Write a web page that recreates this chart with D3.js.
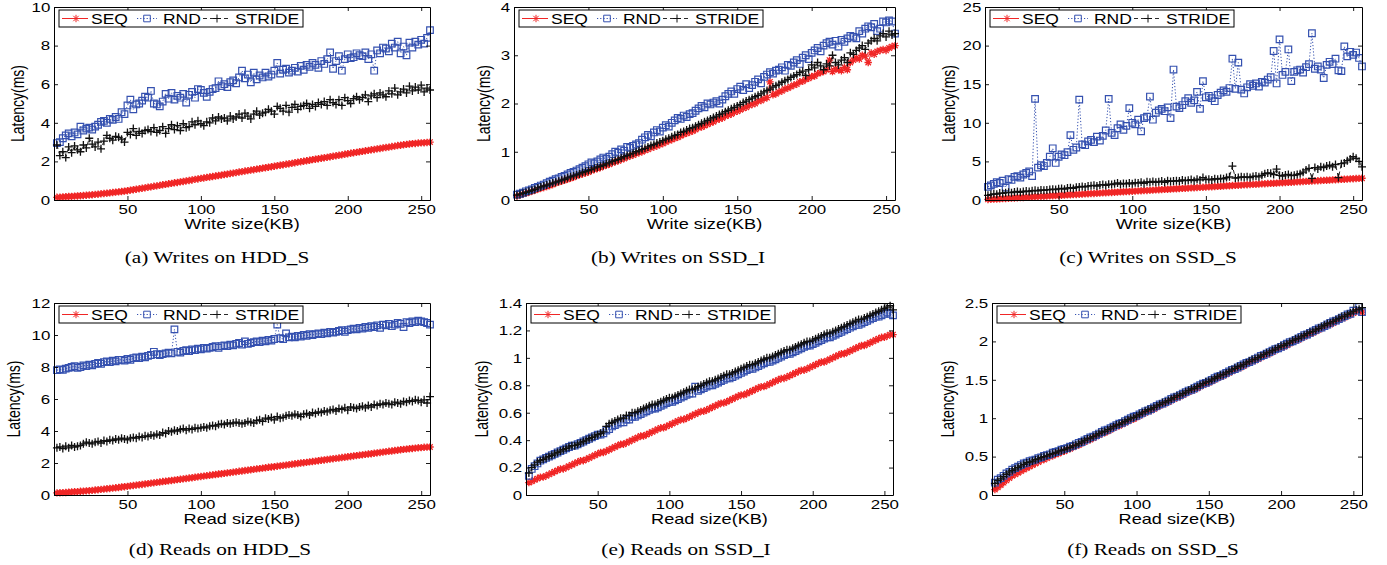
<!DOCTYPE html>
<html>
<head>
<meta charset="utf-8">
<script src="https://cdn.jsdelivr.net/npm/d3@7"></script>
<style>
  body { margin: 0; background: #fff; }
  svg { display: block; }
</style>
</head>
<body>
<svg id="fig" width="1387" height="565"></svg>
<script>
// Request sizes in KB (one sample every 2 KB)
const sizesKB = d3.range(2, 257, 2);
const seriesNames = ["SEQ", "RND", "STRIDE"];
const xTickValues = [50, 100, 150, 200, 250];

// ---- (a) Writes on HDD_S : latency in ms ----
const writeHddSeq = [
  0.14,0.15,0.16,0.17,0.18,0.19,0.20,0.21, 0.22,0.23,0.25,0.26,0.27,0.29,0.30,0.32,
  0.34,0.35,0.37,0.39,0.41,0.42,0.44,0.46, 0.48,0.51,0.53,0.56,0.58,0.61,0.63,0.66,
  0.68,0.71,0.73,0.76,0.79,0.81,0.84,0.86, 0.89,0.91,0.94,0.96,0.99,1.01,1.04,1.07,
  1.09,1.12,1.14,1.17,1.19,1.22,1.24,1.27, 1.29,1.32,1.34,1.37,1.39,1.42,1.45,1.47,
  1.50,1.52,1.55,1.57,1.60,1.62,1.65,1.67, 1.70,1.72,1.75,1.78,1.80,1.83,1.85,1.88,
  1.90,1.93,1.96,1.98,2.01,2.03,2.06,2.09, 2.11,2.14,2.16,2.19,2.21,2.24,2.27,2.29,
  2.32,2.34,2.37,2.40,2.42,2.45,2.47,2.50, 2.52,2.55,2.57,2.60,2.62,2.65,2.67,2.70,
  2.72,2.74,2.77,2.79,2.82,2.84,2.86,2.88, 2.90,2.92,2.93,2.95,2.96,2.97,2.98,3.00];
const writeHddRnd = [
  2.95,3.0,3.2,3.35,3.45,3.3,3.5,3.4, 3.8,3.6,3.7,3.75,3.65,3.8,3.9,4.05,
  4.1,4.0,4.2,4.15,4.3,4.2,4.55,4.45, 4.9,5.2,4.7,4.95,5.0,5.15,5.35,5.3,
  5.65,5.0,4.95,4.85,5.1,5.5,5.25,5.55, 5.2,5.4,5.3,5.5,5.05,5.45,5.6,5.3,
  5.75,5.7,5.55,5.35,5.6,5.75,5.8,6.15, 5.9,6.0,5.85,6.1,6.2,6.05,6.35,6.7,
  6.3,6.5,6.1,6.6,6.25,6.45,6.35,6.6, 6.4,6.5,6.7,7.1,6.55,6.75,6.8,6.6,
  6.7,6.85,6.65,6.95,6.75,7.0,6.9,7.1, 7.0,6.85,7.2,7.05,7.3,7.65,6.8,7.2,
  7.45,6.7,7.3,7.55,7.35,7.4,7.6,7.5, 7.45,7.65,7.3,7.55,6.7,7.75,7.6,7.9,
  7.85,7.7,8.1,7.9,8.2,7.6,7.95,7.5, 8.15,7.9,8.2,8.05,8.3,8.1,8.4,8.8];
const writeHddStride = [
  2.85,2.3,2.5,2.2,2.75,2.45,2.8,2.6, 2.5,2.85,2.7,3.2,2.9,2.75,3.0,2.65,
  3.05,3.35,3.2,3.1,3.3,3.25,3.15,3.0, 3.5,3.4,3.7,3.35,3.55,3.45,3.6,3.65,
  3.55,3.75,3.5,3.6,3.8,3.45,3.7,3.9, 3.65,3.85,3.6,3.95,3.75,3.8,4.05,3.9,
  4.1,3.95,3.85,4.05,4.0,4.25,4.1,4.3, 4.2,4.25,4.1,4.35,4.2,4.3,4.45,4.25,
  4.5,4.35,4.2,4.45,4.6,4.4,4.5,4.55, 4.7,4.6,4.45,4.85,4.75,4.6,4.9,4.55,
  4.8,4.95,4.7,4.85,4.9,5.0,4.75,4.95, 4.85,5.05,4.95,5.1,4.9,5.2,5.05,4.95,
  5.2,4.9,5.3,5.15,5.0,5.25,5.35,5.2, 5.3,5.45,5.1,5.4,5.5,5.3,5.55,5.45,
  5.35,5.65,5.5,5.8,5.45,5.6,5.75,5.55, 5.9,5.65,5.85,5.7,5.95,5.6,5.8,5.7];

// ---- (b) Writes on SSD_I ----
const writeSsdISeq = [
  0.08,0.1,0.12,0.14,0.16,0.18,0.2,0.22, 0.24,0.26,0.28,0.3,0.32,0.35,0.37,0.39,
  0.41,0.43,0.45,0.47,0.5,0.52,0.54,0.56, 0.58,0.61,0.63,0.65,0.67,0.7,0.72,0.74,
  0.77,0.79,0.81,0.84,0.86,0.89,0.91,0.93, 0.96,0.98,1.0,1.03,1.05,1.08,1.1,1.12,
  1.15,1.17,1.2,1.23,1.25,1.28,1.3,1.33, 1.36,1.38,1.41,1.43,1.46,1.5,1.51,1.54,
  1.57,1.6,1.62,1.66,1.68,1.7,1.74,1.76, 1.78,1.82,1.84,1.87,1.9,1.92,1.96,1.98,
  2.0,2.05,2.06,2.1,2.12,2.45,2.18,2.2, 2.24,2.26,2.3,2.32,2.35,2.38,2.4,2.45,
  2.46,2.5,2.52,2.56,2.57,2.62,2.64,2.66, 2.7,2.9,2.66,2.72,2.7,2.68,2.75,2.7,
  2.85,2.9,2.95,2.92,3.0,2.98,2.85,3.05, 3.02,3.08,3.1,3.12,3.1,3.15,3.18,3.2];
const writeSsdIRnd = [
  0.11,0.13,0.15,0.18,0.2,0.22,0.25,0.27, 0.3,0.32,0.35,0.38,0.4,0.43,0.45,0.48,
  0.5,0.53,0.56,0.58,0.61,0.64,0.67,0.7, 0.74,0.78,0.76,0.8,0.84,0.88,0.85,0.9,
  0.95,1.0,0.98,1.05,1.02,1.1,1.08,1.12, 1.15,1.18,1.25,1.3,1.35,1.32,1.4,1.45,
  1.42,1.5,1.55,1.52,1.6,1.65,1.7,1.68, 1.75,1.72,1.78,1.8,1.85,1.9,1.95,1.92,
  2.0,1.98,2.02,2.05,2.0,2.08,2.15,2.2, 2.25,2.2,2.3,2.35,2.28,2.4,2.32,2.38,
  2.45,2.5,2.42,2.55,2.6,2.65,2.62,2.68, 2.7,2.75,2.68,2.8,2.78,2.85,2.9,2.82,
  2.95,3.0,2.92,3.05,3.1,3.15,3.08,3.2, 3.25,3.28,3.22,3.3,3.18,3.32,3.28,3.35,
  3.4,3.38,3.35,3.5,3.45,3.55,3.6,3.58, 3.65,3.5,3.55,3.7,3.68,3.72,3.7,3.45];
const writeSsdIStride = [
  0.1,0.12,0.14,0.16,0.18,0.2,0.22,0.25, 0.27,0.29,0.31,0.33,0.35,0.37,0.39,0.41,
  0.43,0.46,0.48,0.5,0.52,0.54,0.57,0.59, 0.61,0.63,0.66,0.68,0.7,0.72,0.75,0.77,
  0.8,0.82,0.84,0.87,0.9,0.92,0.95,0.97, 1.0,1.02,1.05,1.07,1.1,1.13,1.15,1.18,
  1.2,1.23,1.26,1.28,1.31,1.34,1.36,1.4, 1.42,1.45,1.48,1.5,1.53,1.56,1.59,1.62,
  1.65,1.68,1.71,1.74,1.77,1.8,1.83,1.86, 1.89,1.92,1.95,1.98,2.02,2.05,2.08,2.11,
  2.14,2.17,2.2,2.24,2.27,2.3,2.34,2.37, 2.4,2.44,2.47,2.5,2.54,2.57,2.6,2.64,
  2.67,2.58,2.7,2.8,2.74,2.85,2.78,2.7, 2.82,2.78,3.0,2.85,2.8,2.9,2.95,2.85,
  3.05,3.02,3.1,3.15,3.2,3.12,3.25,3.3, 3.35,3.3,3.4,3.45,3.38,3.5,3.42,3.45];

// ---- (c) Writes on SSD_S ----
const writeSsdSSeq = [
  0.07,0.09,0.11,0.13,0.16,0.18,0.2,0.22, 0.24,0.26,0.29,0.31,0.33,0.35,0.37,0.4,
  0.42,0.44,0.46,0.48,0.5,0.53,0.55,0.57, 0.59,0.61,0.63,0.66,0.68,0.7,0.72,0.74,
  0.76,0.79,0.81,0.83,0.85,0.87,0.89,0.92, 0.94,0.96,0.98,1.0,1.02,1.05,1.07,1.09,
  1.11,1.13,1.15,1.18,1.2,1.22,1.24,1.26, 1.28,1.31,1.33,1.35,1.37,1.39,1.41,1.44,
  1.46,1.48,1.5,1.52,1.54,1.57,1.59,1.61, 1.63,1.65,1.67,1.7,1.72,1.74,1.76,1.78,
  1.8,1.83,1.85,1.87,1.89,1.91,1.93,1.96, 1.98,2.0,2.02,2.04,2.06,2.09,2.11,2.13,
  2.15,2.17,2.19,2.22,2.24,2.26,2.28,2.3, 2.32,2.35,2.37,2.39,2.41,2.43,2.45,2.48,
  2.5,2.52,2.54,2.56,2.58,2.61,2.63,2.65, 2.67,2.69,2.71,2.74,2.76,2.78,2.8,2.82];
const writeSsdSRnd = [
  1.7,1.9,2.1,2.3,2.2,2.5,1.6,2.7, 2.6,3.0,3.1,2.9,3.3,3.5,3.7,3.1,
  13.1,4.2,4.5,4.4,4.8,5.6,6.7,4.8, 5.6,5.9,5.8,6.2,8.4,6.5,6.8,13.0,
  7.2,7.1,7.6,7.8,7.5,8.2,7.7,8.3, 9.0,13.1,8.7,8.4,9.3,9.8,9.1,9.6,
  11.9,10.0,9.8,10.4,8.9,10.6,10.8,13.4, 10.4,11.3,11.6,11.8,11.5,12.0,10.6,16.9,
  12.1,11.9,12.3,12.8,13.2,12.6,12.9,14.0, 11.8,15.4,13.3,13.5,13.2,12.8,13.6,13.9,
  14.2,14.0,14.5,18.3,14.4,17.8,14.3,13.8, 14.6,15.0,14.8,15.1,14.7,15.3,15.2,15.6,
  15.9,19.3,15.1,20.8,16.2,16.6,19.5,15.4, 16.6,16.8,16.9,16.5,17.2,17.6,21.6,17.0,
  17.3,16.9,15.8,17.5,17.9,17.6,18.3,16.8, 16.7,19.9,18.6,19.2,18.8,19.1,18.4,17.3];
const writeSsdSStride = [
  0.6,0.7,0.8,0.75,0.9,0.85,0.95,1.0, 0.95,1.05,1.1,1.0,1.1,1.15,1.1,1.2,
  1.25,1.2,1.3,1.25,1.3,1.35,1.4,1.35, 1.45,1.5,1.4,1.55,1.6,1.5,1.65,1.7,
  1.75,1.7,1.8,1.85,1.9,1.8,1.95,2.0, 1.9,2.05,2.0,2.1,2.2,2.05,2.15,2.1,
  2.2,2.1,2.25,2.2,2.3,2.15,2.35,2.3, 2.4,2.3,2.35,2.45,2.3,2.5,2.4,2.45,
  2.5,2.45,2.6,2.5,2.55,2.65,2.5,2.7, 2.6,2.9,2.65,2.7,2.6,2.75,2.7,2.8,
  2.75,2.9,3.0,4.4,2.85,2.9,3.0,2.95, 3.0,2.9,3.05,3.1,3.0,3.2,3.4,3.5,
  3.45,3.3,4.0,3.2,3.1,3.25,3.3,3.15, 3.2,3.3,3.4,3.6,3.9,4.1,2.8,4.2,
  4.0,4.3,4.2,4.4,4.5,4.3,4.6,2.9, 4.7,4.8,5.1,5.3,5.6,5.4,5.0,4.3];

// ---- (d) Reads on HDD_S ----
const readHddSeq = [
  0.13,0.14,0.15,0.16,0.17,0.19,0.2,0.21, 0.23,0.24,0.26,0.27,0.29,0.31,0.33,0.35,
  0.37,0.39,0.41,0.43,0.45,0.47,0.5,0.52, 0.54,0.57,0.59,0.62,0.64,0.66,0.69,0.71,
  0.74,0.76,0.79,0.81,0.84,0.86,0.88,0.91, 0.93,0.96,0.98,1.01,1.03,1.06,1.08,1.11,
  1.13,1.16,1.18,1.21,1.23,1.26,1.28,1.31, 1.33,1.35,1.38,1.4,1.43,1.45,1.48,1.5,
  1.53,1.55,1.58,1.6,1.63,1.65,1.68,1.7, 1.73,1.75,1.77,1.8,1.82,1.85,1.87,1.9,
  1.92,1.95,1.97,2.0,2.02,2.04,2.07,2.09, 2.12,2.14,2.17,2.19,2.22,2.24,2.27,2.29,
  2.31,2.34,2.36,2.39,2.41,2.44,2.46,2.49, 2.51,2.54,2.56,2.58,2.61,2.63,2.66,2.68,
  2.71,2.73,2.75,2.78,2.8,2.83,2.85,2.87, 2.89,2.91,2.93,2.95,2.96,2.98,2.99,3.0];
const readHddRnd = [
  7.8,7.85,7.82,7.9,7.95,8.0,8.05,7.95, 8.0,8.1,8.05,8.15,8.1,8.2,8.25,8.2,
  8.3,8.35,8.3,8.4,8.35,8.45,8.45,8.4, 8.5,8.45,8.55,8.6,8.55,8.65,8.6,8.7,
  8.75,8.95,8.8,8.75,8.8,8.85,8.9,8.85, 10.35,8.95,8.9,9.0,9.05,9.0,9.1,9.05,
  9.15,9.1,9.2,9.15,9.2,9.25,9.3,9.2, 9.3,9.35,9.3,9.4,9.35,9.45,9.5,9.4,
  9.6,9.45,9.5,9.55,9.6,9.55,9.65,9.6, 9.7,9.65,9.75,10.65,9.8,9.75,10.1,9.85,
  9.9,9.85,9.95,9.9,10.0,9.95,10.05,10.0, 10.05,10.1,10.05,10.15,10.1,10.2,10.15,10.2,
  10.25,10.3,10.2,10.3,10.35,10.4,10.35,10.45, 10.4,10.5,10.45,10.55,10.5,10.6,10.45,10.65,
  10.6,10.7,10.55,10.65,10.75,10.7,10.5,10.8, 10.75,10.85,10.8,10.9,10.85,10.8,10.75,10.65];
const readHddStride = [
  2.95,3.0,2.9,3.05,2.95,3.1,3.0,3.05, 3.1,3.2,3.3,3.25,3.2,3.3,3.35,3.25,
  3.4,3.35,3.45,3.4,3.5,3.45,3.55,3.5, 3.45,3.55,3.6,3.55,3.65,3.6,3.7,3.65,
  3.75,3.7,3.8,3.75,3.9,3.85,4.0,3.95, 4.05,4.0,4.1,4.15,4.05,4.15,4.1,4.2,
  4.15,4.2,4.25,4.2,4.3,4.35,4.3,4.4, 4.45,4.4,4.5,4.45,4.5,4.55,4.5,4.45,
  4.5,4.6,4.55,4.5,4.65,4.7,4.6,4.8, 4.75,4.85,4.7,4.9,4.8,4.85,4.95,5.0,
  4.95,5.05,5.0,4.9,5.05,5.1,5.0,5.15, 5.1,5.2,5.15,5.25,5.2,5.3,5.35,5.25,
  5.4,5.35,5.45,5.3,5.5,5.45,5.4,5.5, 5.55,5.45,5.6,5.5,5.65,5.6,5.7,5.65,
  5.75,5.7,5.65,5.8,5.75,5.7,5.85,5.8, 5.9,5.85,5.95,5.9,5.8,5.95,5.75,6.15];

// ---- (e) Reads on SSD_I ----
const readSsdISeq = [
  0.09,0.1,0.11,0.12,0.13,0.13,0.14,0.15, 0.16,0.17,0.18,0.19,0.19,0.2,0.21,0.22,
  0.23,0.24,0.25,0.25,0.26,0.27,0.28,0.29, 0.3,0.31,0.31,0.32,0.33,0.34,0.35,0.36,
  0.37,0.37,0.38,0.39,0.4,0.41,0.42,0.43, 0.43,0.44,0.45,0.46,0.47,0.48,0.49,0.49,
  0.5,0.51,0.52,0.53,0.54,0.55,0.55,0.56, 0.57,0.58,0.59,0.6,0.61,0.61,0.62,0.63,
  0.64,0.65,0.66,0.67,0.67,0.68,0.69,0.7, 0.71,0.72,0.73,0.73,0.74,0.75,0.76,0.77,
  0.78,0.79,0.79,0.8,0.81,0.82,0.83,0.84, 0.85,0.85,0.86,0.87,0.88,0.89,0.9,0.91,
  0.91,0.92,0.93,0.94,0.95,0.96,0.97,0.97, 0.98,0.99,1.0,1.01,1.02,1.03,1.03,1.04,
  1.05,1.06,1.07,1.08,1.09,1.09,1.1,1.11, 1.12,1.13,1.14,1.15,1.15,1.16,1.17,1.17];
const readSsdIRnd = [
  0.14,0.19,0.21,0.23,0.25,0.26,0.27,0.28, 0.29,0.3,0.31,0.32,0.33,0.34,0.35,0.36,
  0.36,0.37,0.38,0.39,0.4,0.41,0.42,0.43, 0.44,0.44,0.45,0.47,0.48,0.5,0.51,0.52,
  0.53,0.53,0.55,0.55,0.57,0.57,0.58,0.59, 0.6,0.61,0.62,0.63,0.63,0.64,0.65,0.66,
  0.67,0.68,0.68,0.69,0.7,0.71,0.72,0.73, 0.74,0.74,0.79,0.76,0.77,0.78,0.79,0.8,
  0.8,0.81,0.82,0.83,0.84,0.85,0.85,0.86, 0.87,0.88,0.89,0.9,0.91,0.92,0.92,0.93,
  0.94,0.95,0.96,0.97,0.97,0.98,0.99,1.0, 1.01,1.02,1.03,1.03,1.04,1.05,1.06,1.07,
  1.08,1.09,1.09,1.1,1.11,1.12,1.13,1.14, 1.15,1.15,1.16,1.17,1.18,1.19,1.2,1.21,
  1.22,1.23,1.24,1.24,1.25,1.26,1.27,1.28, 1.29,1.3,1.3,1.31,1.32,1.33,1.32,1.31];
const readSsdIStride = [
  0.16,0.2,0.22,0.24,0.25,0.26,0.27,0.28, 0.29,0.3,0.31,0.32,0.33,0.34,0.35,0.36,
  0.36,0.37,0.38,0.39,0.4,0.41,0.42,0.43, 0.44,0.45,0.46,0.5,0.52,0.53,0.54,0.55,
  0.56,0.56,0.58,0.58,0.6,0.6,0.61,0.62, 0.63,0.64,0.65,0.66,0.66,0.67,0.68,0.69,
  0.7,0.71,0.71,0.72,0.73,0.74,0.75,0.76, 0.77,0.77,0.78,0.79,0.8,0.81,0.82,0.83,
  0.83,0.84,0.85,0.86,0.87,0.88,0.88,0.89, 0.9,0.91,0.92,0.93,0.94,0.95,0.95,0.96,
  0.97,0.98,0.99,1.0,1.0,1.01,1.02,1.03, 1.04,1.05,1.06,1.06,1.07,1.08,1.09,1.1,
  1.11,1.12,1.12,1.13,1.14,1.15,1.16,1.17, 1.18,1.18,1.19,1.2,1.21,1.22,1.23,1.24,
  1.25,1.26,1.27,1.28,1.28,1.29,1.3,1.31, 1.32,1.33,1.34,1.35,1.36,1.37,1.38,1.35];

// ---- (f) Reads on SSD_S ----
const readSsdSSeq = [
  0.07,0.10,0.13,0.16,0.19,0.22,0.25,0.27, 0.29,0.31,0.33,0.35,0.37,0.39,0.41,0.43,
  0.45,0.46,0.48,0.50,0.51,0.53,0.54,0.56, 0.57,0.59,0.60,0.62,0.64,0.65,0.67,0.69,
  0.71,0.72,0.74,0.76,0.78,0.80,0.81,0.83, 0.85,0.87,0.89,0.90,0.92,0.94,0.96,0.98,
  0.99,1.01,1.03,1.05,1.07,1.09,1.10,1.12, 1.14,1.16,1.18,1.19,1.21,1.23,1.25,1.27,
  1.28,1.30,1.32,1.34,1.36,1.37,1.39,1.41, 1.43,1.45,1.46,1.48,1.50,1.52,1.54,1.55,
  1.57,1.59,1.61,1.63,1.65,1.66,1.68,1.70, 1.72,1.74,1.75,1.77,1.79,1.81,1.83,1.84,
  1.86,1.88,1.90,1.92,1.93,1.95,1.97,1.99, 2.01,2.02,2.04,2.06,2.08,2.10,2.11,2.13,
  2.15,2.17,2.19,2.21,2.22,2.24,2.26,2.28, 2.30,2.31,2.33,2.35,2.37,2.39,2.40,2.38];
const readSsdSRnd = [
  0.16,0.20,0.22,0.25,0.28,0.30,0.33,0.35, 0.37,0.39,0.41,0.42,0.44,0.45,0.46,0.48,
  0.49,0.51,0.52,0.53,0.55,0.56,0.57,0.59, 0.60,0.61,0.63,0.64,0.66,0.68,0.69,0.71,
  0.73,0.75,0.76,0.78,0.80,0.82,0.84,0.85, 0.87,0.89,0.91,0.93,0.94,0.96,0.98,1.00,
  1.02,1.03,1.05,1.07,1.09,1.10,1.12,1.14, 1.16,1.18,1.19,1.21,1.23,1.25,1.27,1.28,
  1.30,1.32,1.34,1.36,1.37,1.39,1.41,1.43, 1.45,1.46,1.48,1.50,1.52,1.54,1.55,1.57,
  1.59,1.61,1.63,1.64,1.66,1.68,1.70,1.72, 1.73,1.75,1.77,1.79,1.81,1.82,1.84,1.86,
  1.88,1.90,1.91,1.93,1.95,1.97,1.99,2.00, 2.02,2.04,2.06,2.08,2.09,2.11,2.13,2.15,
  2.17,2.18,2.20,2.22,2.24,2.26,2.27,2.29, 2.31,2.33,2.35,2.36,2.40,2.40,2.45,2.38];
const readSsdSStride = [
  0.15,0.19,0.21,0.24,0.27,0.30,0.32,0.34, 0.36,0.38,0.40,0.42,0.43,0.44,0.46,0.47,
  0.49,0.50,0.51,0.53,0.54,0.55,0.57,0.58, 0.59,0.61,0.62,0.64,0.65,0.67,0.69,0.71,
  0.73,0.74,0.76,0.78,0.80,0.82,0.83,0.85, 0.87,0.89,0.91,0.92,0.94,0.96,0.98,1.00,
  1.01,1.03,1.05,1.07,1.09,1.11,1.12,1.14, 1.16,1.18,1.20,1.21,1.23,1.25,1.27,1.29,
  1.30,1.32,1.34,1.36,1.38,1.39,1.41,1.43, 1.45,1.47,1.48,1.50,1.52,1.54,1.56,1.57,
  1.59,1.61,1.63,1.65,1.67,1.68,1.70,1.72, 1.74,1.76,1.77,1.79,1.81,1.83,1.85,1.86,
  1.88,1.90,1.92,1.94,1.95,1.97,1.99,2.01, 2.03,2.04,2.06,2.08,2.10,2.12,2.13,2.15,
  2.17,2.19,2.21,2.23,2.24,2.26,2.28,2.30, 2.32,2.33,2.35,2.37,2.39,2.41,2.42,2.44];

// Y tick values per panel
const yTicksA = [0, 2, 4, 6, 8, 10];
const yTicksB = [0, 1, 2, 3, 4];
const yTicksC = [0, 5, 10, 15, 20, 25];
const yTicksD = [0, 2, 4, 6, 8, 10, 12];
const yTicksE = [0, 0.2, 0.4, 0.6, 0.8, 1, 1.2, 1.4];
const yTicksF = [0, 0.5, 1, 1.5, 2, 2.5];

// ---------------- drawing ----------------
const SX = 1.25;           // horizontal stretch of all lettering
const SANS = "'Liberation Sans', Arial, Helvetica, sans-serif";
const SERIF = "'Liberation Serif', 'Times New Roman', serif";

const style = {
  SEQ:    { color: "#f02626", dash: null,  width: 1.0,
            marker: "M-3.7,0H3.7M0,-3.7V3.7M-2.7,-2.7L2.7,2.7M-2.7,2.7L2.7,-2.7", mw: 1.3 },
  RND:    { color: "#3551b0", dash: "1.2,2", width: 1.0,
            marker: "M-3.3,-3.3H3.3V3.3H-3.3Z", mw: 1.2 },
  STRIDE: { color: "#111111", dash: "4,3", width: 0.9,
            marker: "M-4,0H4M0,-4V4", mw: 1.3 }
};

const panels = [
  { seq: writeHddSeq, rnd: writeHddRnd, stride: writeHddStride, yMax: 10, yTicks: yTicksA,
    xTitle: "Write size(KB)", label: "(a)", verb: "Writes", dev: ["HDD", "S"],
    box: { l: 54, r: 430, t: 7, b: 200 }, ylabX: 17.5, capX: 217, capY: 263 },
  { seq: writeSsdISeq, rnd: writeSsdIRnd, stride: writeSsdIStride, yMax: 4, yTicks: yTicksB,
    xTitle: "Write size(KB)", label: "(b)", verb: "Writes", dev: ["SSD", "I"],
    box: { l: 514, r: 895, t: 7, b: 200 }, ylabX: 483.5, capX: 678, capY: 263 },
  { seq: writeSsdSSeq, rnd: writeSsdSRnd, stride: writeSsdSStride, yMax: 25, yTicks: yTicksC,
    xTitle: "Write size(KB)", label: "(c)", verb: "Writes", dev: ["SSD", "S"],
    box: { l: 985, r: 1362, t: 7, b: 200 }, ylabX: 949, capX: 1148, capY: 263 },
  { seq: readHddSeq, rnd: readHddRnd, stride: readHddStride, yMax: 12, yTicks: yTicksD,
    xTitle: "Read size(KB)", label: "(d)", verb: "Reads", dev: ["HDD", "S"],
    box: { l: 54, r: 430, t: 303, b: 495 }, ylabX: 14, capX: 220, capY: 555 },
  { seq: readSsdISeq, rnd: readSsdIRnd, stride: readSsdIStride, yMax: 1.4, yTicks: yTicksE,
    xTitle: "Read size(KB)", label: "(e)", verb: "Reads", dev: ["SSD", "I"],
    box: { l: 526, r: 893, t: 303, b: 495 }, ylabX: 482, capX: 686, capY: 555 },
  { seq: readSsdSSeq, rnd: readSsdSRnd, stride: readSsdSStride, yMax: 2.5, yTicks: yTicksF,
    xTitle: "Read size(KB)", label: "(f)", verb: "Reads", dev: ["SSD", "S"],
    box: { l: 992, r: 1362, t: 303, b: 495 }, ylabX: 947.5, capX: 1153, capY: 555 }
];

const svg = d3.select("#fig");
svg.append("rect").attr("width", 1387).attr("height", 565).attr("fill", "#fff");

function styleAxis(g) {
  g.attr("font-family", SANS).attr("font-size", 13.5);
  g.selectAll(".domain").attr("stroke", "#000").attr("stroke-width", 1);
  g.selectAll(".tick line").attr("stroke", "#000").attr("stroke-width", 0.9);
  g.selectAll(".tick text").attr("fill", "#000").attr("transform", `scale(${SX},1)`);
}

panels.forEach(p => {
  const { l, r, t, b } = p.box;
  const x = d3.scaleLinear().domain([0, 256]).range([l, r]);
  const y = d3.scaleLinear().domain([0, p.yMax]).range([b, t]);
  const g = svg.append("g");

  // series: SEQ, RND, STRIDE (drawn in that order)
  const seriesData = { SEQ: p.seq, RND: p.rnd, STRIDE: p.stride };
  seriesNames.forEach(name => {
    const st = style[name];
    const pts = seriesData[name].map((v, i) => ({ kb: sizesKB[i], v }));
    const sg = g.append("g");
    sg.append("path")
      .datum(pts)
      .attr("fill", "none")
      .attr("stroke", st.color)
      .attr("stroke-width", st.width)
      .attr("stroke-dasharray", st.dash)
      .attr("d", d3.line().x(d => x(d.kb)).y(d => y(d.v)));
    sg.selectAll("path.m")
      .data(pts)
      .join("path")
      .attr("class", "m")
      .attr("d", st.marker)
      .attr("transform", d => `translate(${x(d.kb)},${y(d.v)})`)
      .attr("fill", "none")
      .attr("stroke", st.color)
      .attr("stroke-width", st.mw);
  });

  // axes on all four sides with inward ticks
  g.append("g").attr("transform", `translate(0,${b})`)
    .call(d3.axisBottom(x).tickValues(xTickValues).tickSizeInner(-4).tickSizeOuter(0).tickPadding(4.5))
    .call(styleAxis);
  g.append("g").attr("transform", `translate(0,${t})`)
    .call(d3.axisTop(x).tickValues(xTickValues).tickSizeInner(-4).tickSizeOuter(0).tickFormat(""))
    .call(styleAxis);
  g.append("g").attr("transform", `translate(${l},0)`)
    .call(d3.axisLeft(y).tickValues(p.yTicks).tickSizeInner(-4).tickSizeOuter(0).tickPadding(3)
      .tickFormat(d => String(d)))
    .call(styleAxis);
  g.append("g").attr("transform", `translate(${r},0)`)
    .call(d3.axisRight(y).tickValues(p.yTicks).tickSizeInner(-4).tickSizeOuter(0).tickFormat(""))
    .call(styleAxis);

  // axis titles
  g.append("text")
    .attr("transform", `translate(${(l + r) / 2},${b + 28.5}) scale(${SX},1)`)
    .attr("text-anchor", "middle")
    .attr("font-family", SANS).attr("font-size", 14.5)
    .text(p.xTitle);
  g.append("text")
    .attr("transform", `translate(${p.ylabX},${(t + b) / 2}) scale(${SX},1) rotate(-90)`)
    .attr("text-anchor", "middle")
    .attr("dominant-baseline", "central")
    .attr("font-family", SANS).attr("font-size", 14)
    .text("Latency(ms)");

  // legend box
  const L = l + 5, T = t + 3;
  const lg = g.append("g").attr("transform", `translate(${L},${T})`);
  lg.append("rect").attr("width", 244).attr("height", 17)
    .attr("fill", "#fff").attr("stroke", "#000").attr("stroke-width", 1);
  const entries = [
    { name: "SEQ",    x0: 3,   x1: 29,  mx: 17,  tx: 32 },
    { name: "RND",    x0: 78,  x1: 98,  mx: 88,  tx: 104 },
    { name: "STRIDE", x0: 144, x1: 171, mx: 158, tx: 176 }
  ];
  entries.forEach(e => {
    const st = style[e.name];
    lg.append("line").attr("x1", e.x0).attr("x2", e.x1).attr("y1", 8.5).attr("y2", 8.5)
      .attr("stroke", st.color).attr("stroke-width", st.width).attr("stroke-dasharray", st.dash);
    lg.append("path").attr("d", st.marker).attr("transform", `translate(${e.mx},8.5)`)
      .attr("fill", "none").attr("stroke", st.color).attr("stroke-width", 1);
    lg.append("text")
      .attr("transform", `translate(${e.tx},13.5) scale(${SX},1)`)
      .attr("font-family", SANS).attr("font-size", 14)
      .text(e.name);
  });

  // caption under the panel
  const cap = svg.append("text")
    .attr("transform", `translate(${p.capX},${p.capY}) scale(${SX},1)`)
    .attr("text-anchor", "middle")
    .attr("font-family", SERIF).attr("font-size", 17);
  cap.append("tspan").text(`${p.label} ${p.verb} on ${p.dev[0]}`);
  cap.append("tspan").attr("font-weight", "bold").text("_");
  cap.append("tspan").text(p.dev[1]);
});
</script>
</body>
</html>
